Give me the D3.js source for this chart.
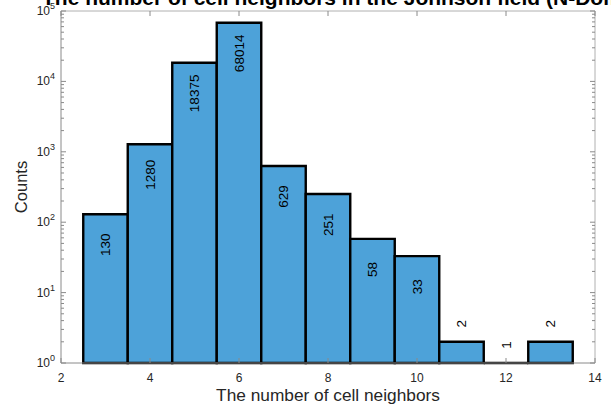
<!DOCTYPE html>
<html>
<head>
<meta charset="utf-8">
<script src="https://cdn.jsdelivr.net/npm/d3@7"></script>
<style>
  html, body { margin: 0; padding: 0; background: #fff; }
  svg { display: block; font-family: "Liberation Sans", Arial, sans-serif; }
</style>
</head>
<body>
<svg id="chart" width="611" height="408"></svg>
<script>
// Histogram of neighbour counts per cell (log-scaled counts)
const neighbors = [3, 4, 5, 6, 7, 8, 9, 10, 11, 12, 13];
const counts = [130, 1280, 18375, 68014, 629, 251, 58, 33, 2, 1, 2];
const xTicks = [2, 4, 6, 8, 10, 12, 14];
const yTickExps = [0, 1, 2, 3, 4, 5];
const titleText = "The number of cell neighbors in the Johnson field (N-Dom)";
const xLabel = "The number of cell neighbors";
const yLabel = "Counts";

const margin = { left: 61, right: 16, top: 11, bottom: 45 };
const W = 611, H = 408;
const svg = d3.select("#chart");

const x = d3.scaleLinear().domain([2, 14]).range([margin.left, W - margin.right]);
const y = d3.scaleLog().domain([1, 1e5]).range([H - margin.bottom, margin.top]);

const axisColor = "#8a8a8a";
const textColor = "#262626";
const barColor = "#4da2d9";

// bars: one bin of width 1 centred on each neighbour count
const bars = svg.append("g");
neighbors.forEach((n, i) => {
  const x0 = x(n - 0.5), x1 = x(n + 0.5);
  const y0 = y(1), y1 = y(counts[i]);
  bars.append("path")
    .attr("d", `M${x0},${y0}V${y1}H${x1}V${y0}Z`)
    .attr("fill", barColor)
    .attr("stroke", "#000")
    .attr("stroke-width", 2.4)
    .attr("stroke-linejoin", "miter");
});

// box and axes
const plotL = x(2), plotR = x(14), plotT = y(1e5), plotB = y(1);
const axes = svg.append("g").attr("stroke", axisColor).attr("stroke-width", 1).attr("fill", "none");
axes.append("path").attr("d", `M${plotL},${plotT}V${plotB}H${plotR}`);
axes.append("path").attr("d", `M${plotL},${plotT}H${plotR}V${plotB}`).attr("stroke", "#b0b0b0");

// x ticks (inward, top and bottom)
xTicks.forEach(t => {
  const px = x(t);
  axes.append("line").attr("x1", px).attr("x2", px).attr("y1", plotB).attr("y2", plotB - 5);
  axes.append("line").attr("x1", px).attr("x2", px).attr("y1", plotT).attr("y2", plotT + 5);
  svg.append("text").attr("x", px).attr("y", plotB + 19)
    .attr("text-anchor", "middle").attr("font-size", 12).attr("fill", textColor).text(t);
});

// y ticks: decades plus minor ticks, on left and right
yTickExps.forEach(e => {
  const v = Math.pow(10, e);
  const py = y(v);
  axes.append("line").attr("x1", plotL).attr("x2", plotL + 5).attr("y1", py).attr("y2", py);
  axes.append("line").attr("x1", plotR).attr("x2", plotR - 5).attr("y1", py).attr("y2", py);
  const lbl = svg.append("text").attr("x", plotL - 6).attr("y", py + 4)
    .attr("text-anchor", "end").attr("font-size", 12).attr("fill", textColor);
  lbl.append("tspan").text("10");
  lbl.append("tspan").attr("dy", -6).attr("font-size", 9).text(e);
  if (e < 5) {
    for (let m = 2; m <= 9; m++) {
      const pm = y(m * v);
      axes.append("line").attr("x1", plotL).attr("x2", plotL + 3).attr("y1", pm).attr("y2", pm);
      axes.append("line").attr("x1", plotR).attr("x2", plotR - 3).attr("y1", pm).attr("y2", pm);
    }
  }
});

// value labels, rotated; inside the bar for tall bars, above it for short ones
neighbors.forEach((n, i) => {
  const c = counts[i];
  const cy = c >= 10 ? y(c / Math.E) : y(c) - 18;
  svg.append("text")
    .attr("transform", `translate(${x(n) + 4.5},${cy}) rotate(-90)`)
    .attr("text-anchor", "middle")
    .attr("font-size", 13.5)
    .attr("fill", "#000")
    .text(c);
});

// axis titles
svg.append("text").attr("x", (plotL + plotR) / 2).attr("y", 401)
  .attr("text-anchor", "middle").attr("font-size", 17.3).attr("fill", textColor).text(xLabel);
svg.append("text").attr("transform", `translate(27,${(plotT + plotB) / 2}) rotate(-90)`)
  .attr("text-anchor", "middle").attr("font-size", 16.5).attr("fill", textColor).text(yLabel);

// chart title
svg.append("text").attr("x", 42).attr("y", 5)
  .attr("font-size", 21).attr("font-weight", "bold").attr("fill", "#000").text(titleText);
</script>
</body>
</html>
